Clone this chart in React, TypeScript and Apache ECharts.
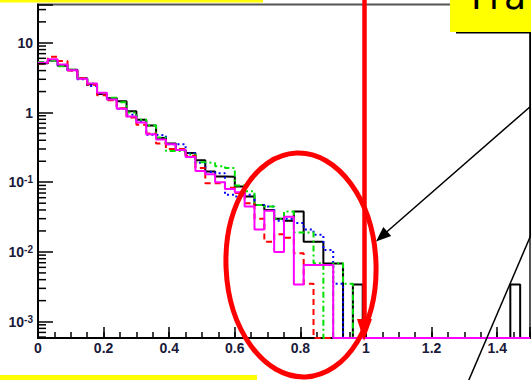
import React, { useEffect, useRef } from "react";
import * as echarts from "echarts";

// ---- axis structure ----
const BIN_WIDTH = 0.03;
const N_BINS = 50;
const X_MIN = 0;
const X_MAX = 1.5;
const Y_MIN = 5.82e-4;
const Y_MAX = 35.5;
const xTickLabels = ["0", "0.2", "0.4", "0.6", "0.8", "1", "1.2", "1.4"];

// ---- histogram contents (per bin, 0 = empty bin) ----
const blackVals = [
  5.1, 5.6, 4.7, 4.1, 3.1, 2.55, 1.85, 1.6, 1.45, 1.04,
  0.79, 0.65, 0.43, 0.36, 0.29, 0.263, 0.206, 0.143, 0.121, 0.12,
  0.087, 0.0625, 0.047, 0.04, 0.03, 0.028, 0.038, 0.014, 0.014, 0.0068,
  0.0068, 0, 0.0034, 0, 0, 0, 0, 0, 0, 0,
  0, 0, 0, 0, 0, 0, 0, 0, 0.0034, 0,
];
const blueVals = [
  5.2, 5.6, 4.8, 4.0, 3.0, 2.4, 1.85, 1.55, 1.13, 0.93,
  0.75, 0.48, 0.47, 0.35, 0.35, 0.26, 0.19, 0.14, 0.135, 0.066,
  0.0625, 0.066, 0.047, 0.045, 0.028, 0.03, 0.026, 0.021, 0.0176, 0.0107,
  0.0035, 0, 0, 0, 0, 0, 0, 0, 0, 0,
  0, 0, 0, 0, 0, 0, 0, 0, 0, 0,
];
const greenVals = [
  5.3, 5.6, 4.6, 4.1, 3.1, 2.6, 1.9, 1.63, 1.4, 1.0,
  0.79, 0.65, 0.44, 0.28, 0.28, 0.25, 0.193, 0.189, 0.17, 0.16,
  0.09, 0.074, 0.047, 0.045, 0.03, 0.038, 0.019, 0.019, 0.0069, 0,
  0.0069, 0.0035, 0, 0, 0, 0, 0, 0, 0, 0,
  0, 0, 0, 0, 0, 0, 0, 0, 0, 0,
];
const redVals = [
  5.0, 6.3, 5.5, 4.0, 3.1, 2.5, 1.77, 1.5, 1.15, 0.85,
  0.67, 0.5, 0.36, 0.3, 0.3, 0.24, 0.16, 0.097, 0.097, 0.083,
  0.07, 0.05, 0.03, 0.014, 0.018, 0.016, 0.0096, 0.0035, 0, 0,
  0, 0, 0, 0, 0, 0, 0, 0, 0, 0,
  0, 0, 0, 0, 0, 0, 0, 0, 0, 0,
];
const magentaVals = [
  5.2, 5.8, 4.9, 4.05, 3.05, 2.6, 1.92, 1.54, 1.13, 0.88,
  0.72, 0.49, 0.41, 0.35, 0.29, 0.23, 0.145, 0.13, 0.1, 0.08,
  0.072, 0.045, 0.021, 0.039, 0.01, 0.032, 0.0034, 0.0065, 0.0065, 0.0065,
  0, 0, 0, 0, 0, 0, 0, 0, 0, 0,
  0, 0, 0, 0, 0, 0, 0, 0, 0, 0,
];

const LABEL = "#1a1a3a";

function stepData(vals: number[]) {
  const pts: number[][] = vals.map((v, i) => [
    Math.round(i * BIN_WIDTH * 1000) / 1000,
    v > 0 ? v : Y_MIN,
  ]);
  const last = vals[vals.length - 1];
  pts.push([N_BINS * BIN_WIDTH, last > 0 ? last : Y_MIN]);
  return pts;
}

// log minor tick values 2..9 x 10^n inside the y range
const yMinorTicks: number[] = [];
for (let e = -4; e <= 1; e++) {
  for (let k = 2; k <= 9; k++) {
    const v = k * Math.pow(10, e);
    if (v > Y_MIN && v < Y_MAX) yMinorTicks.push(v);
  }
}

function histSeries(name: string, vals: number[], color: string, type: any) {
  return {
    name,
    type: "line",
    step: "end",
    xAxisIndex: 0,
    yAxisIndex: 0,
    data: stepData(vals),
    showSymbol: false,
    symbol: "none",
    clip: false,
    lineStyle: { color, width: 2, type },
    itemStyle: { color },
    z: 3,
  };
}

export default function App() {
  const ref = useRef<HTMLDivElement>(null);
  useEffect(() => {
    if (!ref.current) return;
    const chart = echarts.init(ref.current, undefined, { renderer: "svg" });
    const labelFont = {
      fontSize: 14,
      fontWeight: "bold",
      fontFamily: "Liberation Sans",
      color: LABEL,
    };
    chart.setOption({
      animation: false,
      backgroundColor: "#ffffff",
      grid: {
        left: 38,
        right: 1,
        top: 4.5,
        bottom: 42,
        show: true,
        borderColor: "#555555",
        borderWidth: 2,
        outerBoundsMode: "none",
      },
      xAxis: [
        {
          type: "value",
          position: "bottom",
          min: X_MIN,
          max: X_MAX,
          interval: 0.2,
          axisLine: { show: true, lineStyle: { color: "#000", width: 2 } },
          axisTick: { show: true, inside: true, length: 11, lineStyle: { color: "#000", width: 1.5 } },
          splitLine: { show: false },
          axisLabel: {
            ...labelFont,
            margin: 3,
            formatter: (v: number) => {
              const k = Math.round(v / 0.2);
              if (Math.abs(v / 0.2 - k) > 1e-6) return "";
              return xTickLabels[k] ?? "";
            },
          },
        },
        {
          type: "value",
          position: "bottom",
          min: X_MIN,
          max: X_MAX,
          interval: 0.05,
          axisLine: { show: false },
          axisTick: { show: true, inside: true, length: 6, lineStyle: { color: "#000", width: 1.5 } },
          axisLabel: { show: false },
          splitLine: { show: false },
        },
      ],
      yAxis: {
        type: "log",
        logBase: 10,
        min: Y_MIN,
        max: Y_MAX,
        axisLine: { show: true, lineStyle: { color: "#000", width: 2 } },
        axisTick: { show: true, inside: true, length: 15, lineStyle: { color: "#000", width: 1.5 } },
        splitLine: { show: false },
        axisLabel: {
          margin: 5,
          formatter: (v: number) => {
            const l = Math.log10(v);
            const e = Math.round(l);
            if (Math.abs(l - e) > 0.01) return "";
            if (e === 0) return "{b|1}";
            if (e === 1) return "{b|10}";
            return `{b|10}{s|${e}}`;
          },
          rich: {
            b: { ...labelFont, lineHeight: 15 },
            s: { ...labelFont, fontSize: 10, lineHeight: 11, verticalAlign: "top" },
          },
        },
      },
      series: [
        {
          type: "custom",
          xAxisIndex: 0,
          yAxisIndex: 0,
          silent: true,
          clip: false,
          z: 4,
          data: yMinorTicks.map((v) => [X_MIN, v]),
          renderItem: (_p: any, api: any) => {
            const pt = api.coord([X_MIN, api.value(1)]);
            return {
              type: "line",
              shape: { x1: pt[0], y1: pt[1], x2: pt[0] + 8, y2: pt[1] },
              style: { stroke: "#000", lineWidth: 1.5 },
            };
          },
        },
        histSeries("black", blackVals, "#000000", "solid"),
        histSeries("blue", blueVals, "#0000ff", [2, 3]),
        histSeries("green", greenVals, "#00e000", [6, 3, 2, 3]),
        histSeries("red", redVals, "#ff0000", [6, 4]),
        histSeries("magenta", magentaVals, "#ff00ff", "solid"),
      ],
      graphic: {
        elements: [
          { type: "rect", z: 100, shape: { x: 0, y: 0, width: 263, height: 2.5 }, style: { fill: "#ffff00" } },
          { type: "rect", z: 100, shape: { x: 0, y: 375, width: 257, height: 5 }, style: { fill: "#ffff00" } },
          { type: "rect", z: 100, shape: { x: 450, y: 0, width: 81, height: 32 }, style: { fill: "#ffff00" } },
          {
            type: "text",
            z: 101,
            x: 471,
            y: 14,
            style: {
              text: "Fra",
              fill: "#000",
              font: '36px "DejaVu Sans"',
              verticalAlign: "bottom",
            },
          },
          { type: "line", z: 100, shape: { x1: 456, y1: 32.7, x2: 531, y2: 32.7 }, style: { stroke: "#000", lineWidth: 1.5 } },
          { type: "line", z: 100, shape: { x1: 530.3, y1: 32.7, x2: 530.3, y2: 237 }, style: { stroke: "#000", lineWidth: 1.5 } },
          {
            type: "ellipse",
            z: 100,
            x: 301,
            y: 265,
            rotation: 0.04,
            shape: { cx: 0, cy: 0, rx: 75, ry: 112 },
            style: { fill: "none", stroke: "#ff0000", lineWidth: 5 },
          },
          { type: "line", z: 101, shape: { x1: 364.5, y1: 0, x2: 364.5, y2: 322 }, style: { stroke: "#ff0000", lineWidth: 4.5 } },
          { type: "polygon", z: 101, shape: { points: [[357, 319], [372, 319], [364, 341]] }, style: { fill: "#ff0000" } },
          { type: "line", z: 101, shape: { x1: 531, y1: 106, x2: 382, y2: 236 }, style: { stroke: "#000", lineWidth: 1.5 } },
          { type: "polygon", z: 101, shape: { points: [[376, 241.5], [391.2, 236.1], [383.3, 227.1]] }, style: { fill: "#000" } },
          { type: "line", z: 101, shape: { x1: 530.5, y1: 236, x2: 468, y2: 382 }, style: { stroke: "#000", lineWidth: 1.5 } },
        ],
      },
    });
    return () => chart.dispose();
  }, []);
  return (
    <div
      ref={ref}
      style={{ position: "absolute", left: 0, top: 0, width: 531, height: 380 }}
    />
  );
}
